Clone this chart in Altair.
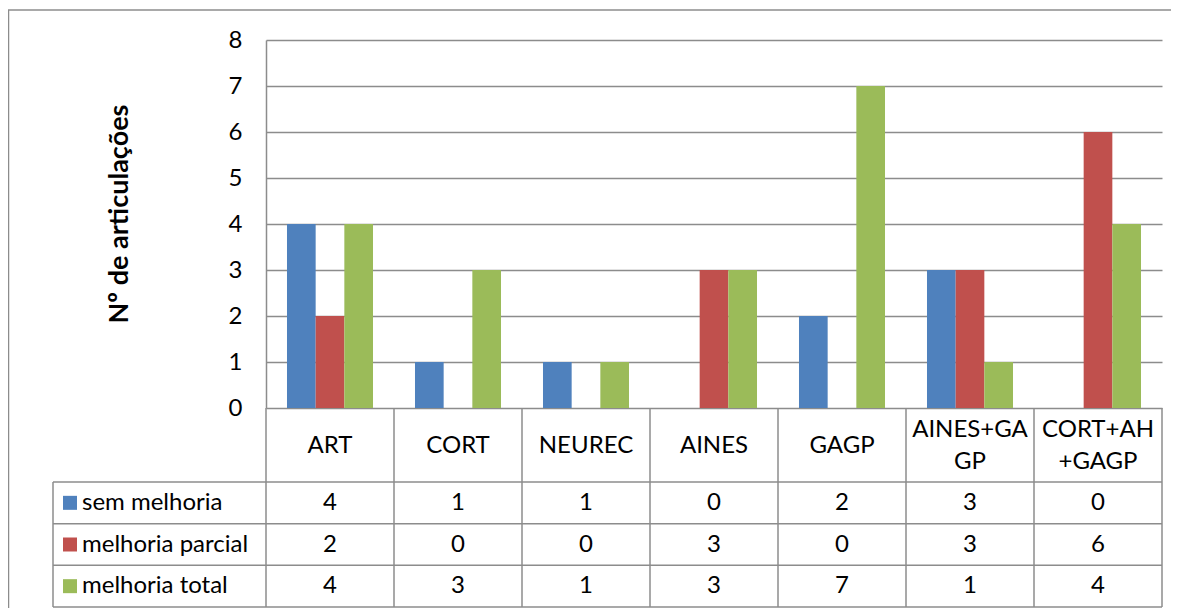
import altair as alt
import pandas as pd

categories = ["ART", "CORT", "NEUREC", "AINES", "GAGP", "AINES+GAGP", "CORT+AH+GAGP"]
header_labels = ["ART", "CORT", "NEUREC", "AINES", "GAGP", "AINES+GA\nGP", "CORT+AH\n+GAGP"]
series_names = ["sem melhoria", "melhoria parcial", "melhoria total"]
sem_melhoria = [4, 1, 1, 0, 2, 3, 0]
melhoria_parcial = [2, 0, 0, 3, 0, 3, 6]
melhoria_total = [4, 3, 1, 3, 7, 1, 4]
colors = ["#4F81BD", "#C0504D", "#9BBB59"]
y_ticks = [0, 1, 2, 3, 4, 5, 6, 7, 8]

FONT = "Lato"
FS = 24
GRID = "#8c8c8c"
LH = 32

W = 896          # plot width
H = 567          # plot + data table height
PLOT_H = 368     # bar area height
ROW_TOP = 442    # first data row top
LEG_LEFT = -213  # legend column left edge
HEAD_Y = (PLOT_H + ROW_TOP) / 2 + 0.5

rows = []
for name, vals in zip(series_names, [sem_melhoria, melhoria_parcial, melhoria_total]):
    for c, v in zip(categories, vals):
        rows.append({"cat": c, "series": name, "value": v})
df = pd.DataFrame(rows)
hdr = pd.DataFrame({"cat": categories, "label": header_labels,
                    "nlines": [lab.count("\n") + 1 for lab in header_labels]})
ser = pd.DataFrame({"series": series_names})
vlines = pd.DataFrame({"k": list(range(len(categories) + 1))})
hlines = pd.DataFrame({"r": list(range(len(series_names) + 1))})

xscale = alt.Scale(domain=categories, paddingInner=0.328, paddingOuter=0.164)
rowscale = alt.Scale(type="band", domain=series_names, range=[ROW_TOP, H], paddingInner=0, paddingOuter=0)
cscale = alt.Scale(domain=series_names, range=colors)

bars = alt.Chart(df).mark_bar().encode(
    x=alt.X("cat:N", scale=xscale, axis=None, sort=categories),
    xOffset=alt.XOffset("series:N", scale=alt.Scale(domain=series_names, paddingInner=0, paddingOuter=0)),
    y=alt.Y("value:Q", scale=alt.Scale(domain=[0, 8], range=[PLOT_H, 0], nice=False, zero=True),
            axis=alt.Axis(values=y_ticks, grid=True, gridColor=GRID, gridWidth=1.5,
                          domainColor=GRID, domainWidth=1.5, ticks=False, labelPadding=24,
                          labelFont=FONT, labelFontSize=FS, labelColor="black",
                          title="Nº de articulações", titleFont=FONT, titleFontSize=27,
                          titleFontWeight="bold", titleColor="black", titleX=-147, titleY=173.5,
                          titleAngle=270, titleAlign="center", titleBaseline="middle")),
    color=alt.Color("series:N", scale=cscale, legend=None),
)

vals = alt.Chart(df).mark_text(font=FONT, fontSize=FS, color="black", baseline="middle").encode(
    x=alt.X("cat:N", scale=xscale, axis=None, sort=categories),
    y=alt.Y("series:N", scale=rowscale, axis=None),
    text="value:Q",
)

heads1 = alt.Chart(hdr).transform_filter("datum.nlines == 1").mark_text(
    font=FONT, fontSize=FS, color="black", baseline="middle").encode(
    x=alt.X("cat:N", scale=xscale, axis=None, sort=categories),
    y=alt.value(HEAD_Y),
    text="label:N",
)
heads2 = alt.Chart(hdr).transform_filter("datum.nlines == 2").mark_text(
    font=FONT, fontSize=FS, color="black", baseline="middle",
    lineBreak="\n", lineHeight=LH).encode(
    x=alt.X("cat:N", scale=xscale, axis=None, sort=categories),
    y=alt.value(HEAD_Y - LH / 2),
    text="label:N",
)

keys = alt.Chart(ser).mark_square(size=196, opacity=1, filled=True).encode(
    x=alt.value(-196),
    y=alt.Y("series:N", scale=rowscale, axis=None),
    color=alt.Color("series:N", scale=cscale, legend=None),
)

legtext = alt.Chart(ser).mark_text(font=FONT, fontSize=FS, color="black", baseline="middle",
                                   align="left").encode(
    x=alt.value(-184),
    y=alt.Y("series:N", scale=rowscale, axis=None),
    text="series:N",
)

vrules = alt.Chart(vlines).mark_rule(color=GRID, strokeWidth=1.5).encode(
    x=alt.X("k:Q", scale=alt.Scale(domain=[0, len(categories)], range=[0, W], nice=False, zero=False), axis=None),
    y=alt.value(PLOT_H),
    y2=alt.value(H),
)

hrules = alt.Chart(hlines).mark_rule(color=GRID, strokeWidth=1.5).encode(
    y=alt.Y("r:Q", scale=alt.Scale(domain=[0, len(series_names)], range=[ROW_TOP, H], nice=False, zero=False), axis=None),
    x=alt.value(LEG_LEFT),
    x2=alt.value(W),
)

legleft = alt.Chart(ser.head(1)).mark_rule(color=GRID, strokeWidth=1.5).encode(
    x=alt.value(LEG_LEFT),
    y=alt.value(ROW_TOP),
    y2=alt.value(H),
)

border_v = alt.Chart(ser.head(1)).mark_rule(color=GRID, strokeWidth=1.5).encode(
    x=alt.value(-257.5), y=alt.value(-30), y2=alt.value(H + 20),
)
border_h = alt.Chart(ser.head(1)).mark_rule(color=GRID, strokeWidth=1.5).encode(
    y=alt.value(-30), x=alt.value(-258), x2=alt.value(W + 20),
)

chart = alt.layer(
    border_v, border_h, bars, vrules, hrules, legleft, vals, heads1, heads2, keys, legtext
).resolve_scale(
    x="independent", y="independent", color="shared"
).properties(
    width=W, height=H,
    padding={"left": 258, "top": 32, "right": 9, "bottom": 1},
    autosize=alt.AutoSizeParams(type="none"),
).configure_view(stroke=None)

chart.save("out.html", embed_options={"renderer": "svg", "actions": False})
